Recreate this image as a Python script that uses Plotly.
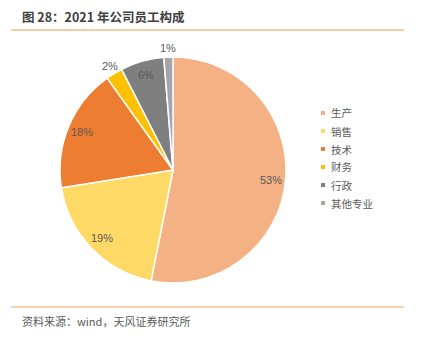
import math
import plotly.graph_objects as go

categories = ["生产", "销售", "技术", "财务", "行政", "其他专业"]
values = [53.1, 19.4, 17.6, 2.4, 6.2, 1.3]
colors = ["#F4B183", "#FFD966", "#ED7D31", "#FFC000", "#7F7F7F", "#A5A5A5"]
label_outside = [False, False, False, True, False, True]

W, H = 423, 339
FONT = "Noto Sans CJK SC, Noto Sans, sans-serif"
NUMFONT = "Liberation Sans, Arial, sans-serif"

# pie geometry (pixels)
pie_left, pie_right, pie_top, pie_bottom = 60, 286, 57, 283
cx_px = (pie_left + pie_right) / 2
cy_px = (pie_top + pie_bottom) / 2
R = (pie_right - pie_left) / 2

fig = go.Figure()
fig.add_trace(go.Pie(
    labels=categories,
    values=values,
    sort=False,
    direction="clockwise",
    rotation=0,
    marker=dict(colors=colors, line=dict(color="white", width=1.5)),
    textinfo="none",
    hoverinfo="label+percent",
    domain=dict(x=[pie_left / W, pie_right / W], y=[1 - pie_bottom / H, 1 - pie_top / H]),
    automargin=False,
    showlegend=False,
))

annotations = []
total = sum(values)
cum = 0.0
for v, outside in zip(values, label_outside):
    mid = (cum + v / 2) / total
    cum += v
    ang = 2 * math.pi * mid
    r = R * (1.08 if outside else 0.87)
    x_px = cx_px + r * math.sin(ang)
    y_px = cy_px - r * math.cos(ang)
    annotations.append(dict(
        text=f"{round(100 * v / total)}%", x=x_px / W, y=1 - y_px / H,
        xref="paper", yref="paper", xanchor="center", yanchor="middle",
        showarrow=False, font=dict(family=NUMFONT, size=11, color="#595959")))

# legend built from categories / colours
shapes = []
leg_x0, leg_y0, leg_dy = 323, 113, 18
for i, (cat, col) in enumerate(zip(categories, colors)):
    yy = leg_y0 + i * leg_dy
    shapes.append(dict(type="rect", xref="paper", yref="paper",
                       x0=(leg_x0 - 2) / W, x1=(leg_x0 + 2) / W,
                       y0=1 - (yy + 2) / H, y1=1 - (yy - 2) / H,
                       fillcolor=col, line=dict(width=0)))
    annotations.append(dict(
        text=cat, x=(leg_x0 + 5.5) / W, y=1 - yy / H,
        xref="paper", yref="paper", xanchor="left", yanchor="middle",
        showarrow=False, font=dict(family=FONT, size=10.5, color="#595959")))

annotations += [
    dict(text="<b>图 28：2021 年公司员工构成</b>", x=20 / W, y=1 - 16 / H,
         xref="paper", yref="paper", xanchor="left", yanchor="middle",
         showarrow=False, font=dict(family=FONT, size=12.5, color="#404040")),
    dict(text="资料来源：wind，天风证券研究所", x=20 / W, y=1 - 321 / H,
         xref="paper", yref="paper", xanchor="left", yanchor="middle",
         showarrow=False, font=dict(family=FONT, size=11, color="#595959")),
]

shapes += [
    dict(type="line", xref="paper", yref="paper", x0=11 / W, x1=404 / W,
         y0=1 - 30 / H, y1=1 - 30 / H, line=dict(color="#F8CBA0", width=1.8)),
    dict(type="line", xref="paper", yref="paper", x0=11 / W, x1=404 / W,
         y0=1 - 307 / H, y1=1 - 307 / H, line=dict(color="#F4A460", width=1)),
]

fig.update_layout(
    width=W, height=H,
    margin=dict(l=0, r=0, t=0, b=0),
    paper_bgcolor="white",
    plot_bgcolor="white",
    showlegend=False,
    annotations=annotations,
    shapes=shapes,
)

fig.write_html("out.html")
